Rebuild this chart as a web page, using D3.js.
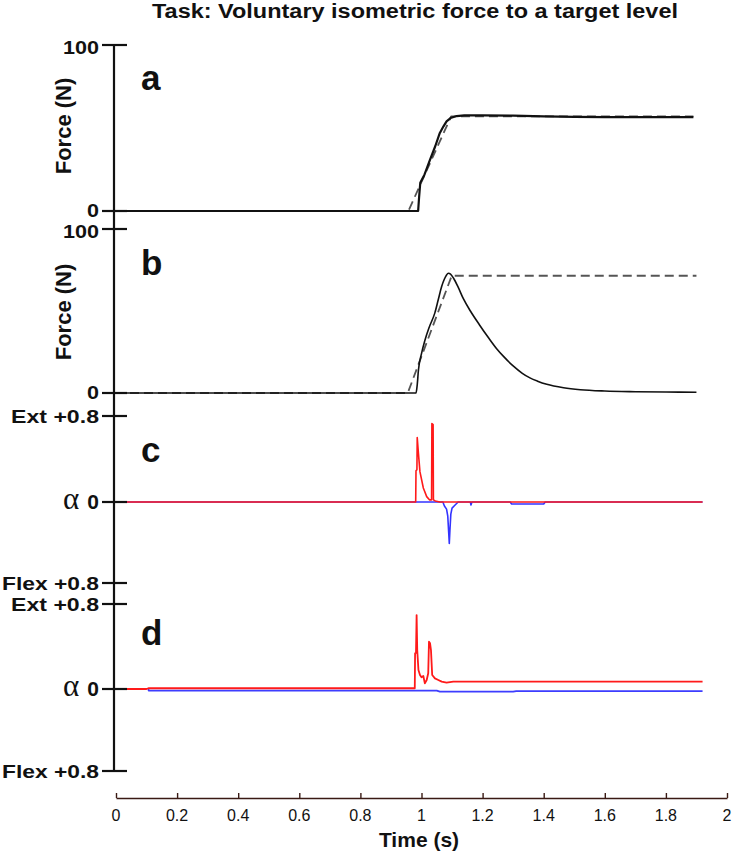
<!DOCTYPE html>
<html>
<head>
<meta charset="utf-8">
<script src="https://cdn.jsdelivr.net/npm/d3@7"></script>
<style>
  html, body { margin: 0; padding: 0; background: #fff; }
  svg { display: block; }
  text { font-family: "Liberation Sans", Arial, sans-serif; fill: #111; }
</style>
</head>
<body>
<svg id="chart" width="746" height="853"></svg>
<script>
// ---------- data ----------
const titleText = "Task: Voluntary isometric force to a target level";
const xTicks = [0, 0.2, 0.4, 0.6, 0.8, 1, 1.2, 1.4, 1.6, 1.8, 2];
const xTickLabels = ["0", "0.2", "0.4", "0.6", "0.8", "1", "1.2", "1.4", "1.6", "1.8", "2"];
const xLabel = "Time (s)";
const forceTicks = [0, 100];
const forceTickLabels = ["0", "100"];
const forceLabel = "Force (N)";
const alphaTicks = [-0.8, 0, 0.8];
const alphaTickLabels = ["Flex +0.8", "0", "Ext +0.8"];
const panelLetters = ["a", "b", "c", "d"];

// panel a: measured force (solid) and target (dashed)
const aTime   = [0, 0.989, 0.992, 0.996, 1.01, 1.028, 1.045, 1.06, 1.072, 1.082, 1.095, 1.115, 1.14, 1.2, 1.3, 1.4, 1.5, 1.6, 1.7, 1.8, 1.89];
const aForce  = [0, 0, 8, 17, 22, 31, 39, 47, 51, 54, 56, 57.2, 57.6, 57.6, 57.4, 57.0, 56.7, 56.6, 56.6, 56.5, 56.5];
const aTargetTime = [0, 0.957, 1.097, 1.89];
const aTarget     = [0, 0, 57, 57];

// panel b
const bTime  = [0, 0.982, 0.986, 0.99, 1.0, 1.011, 1.025, 1.044, 1.055, 1.066, 1.075, 1.082, 1.088, 1.095, 1.105, 1.12, 1.137, 1.16, 1.19, 1.22, 1.246, 1.27, 1.30, 1.33, 1.355, 1.38, 1.41, 1.465, 1.52, 1.6, 1.7, 1.8, 1.9];
const bForce = [0, 0, 5, 14, 24, 32, 40, 49, 57, 65, 69.5, 72, 73, 72.5, 70, 64.5, 57.5, 50, 41.5, 33.5, 27, 22, 16.5, 12, 9.2, 7.2, 5.3, 3.2, 2, 1.2, 0.8, 0.6, 0.5];
const bTargetTime = [0, 0.955, 1.099, 1.9];
const bTarget     = [0, 0, 71.5, 71.5];

// panel c: alpha (extensor red, flexor blue)
const cRedTime  = [0, 0.981, 0.982, 0.985, 0.986, 0.99, 0.995, 1.006, 1.017, 1.026, 1.033, 1.034, 1.038, 1.039, 1.045, 1.06, 1.92];
const cRed      = [0, 0, 0.29, 0.30, 0.60, 0.45, 0.28, 0.13, 0.05, 0.02, 0.02, 0.73, 0.72, 0.02, 0.01, 0, 0];
const cBlueTime = [0, 1.07, 1.075, 1.082, 1.086, 1.089, 1.091, 1.093, 1.096, 1.10, 1.11, 1.12, 1.16, 1.162, 1.165, 1.29, 1.295, 1.40, 1.405, 1.92];
const cBlue     = [0, 0, -0.04, -0.07, -0.14, -0.30, -0.41, -0.28, -0.12, -0.06, -0.03, 0, 0, -0.03, 0, 0, -0.02, -0.02, 0, 0];

// panel d
const dRedTime  = [0, 0.10, 0.106, 0.978, 0.979, 0.982, 0.984, 0.986, 0.990, 0.995, 1.0, 1.006, 1.011, 1.017, 1.022, 1.0245, 1.028, 1.031, 1.035, 1.044, 1.055, 1.066, 1.082, 1.104, 1.92];
const dRed      = [0, 0, 0.007, 0.007, 0.336, 0.34, 0.696, 0.367, 0.179, 0.132, 0.11, 0.122, 0.053, 0.085, 0.148, 0.445, 0.43, 0.367, 0.132, 0.10, 0.085, 0.069, 0.06, 0.069, 0.069];
const dBlueTime = [0.106, 0.107, 1.05, 1.06, 1.3, 1.31, 1.92];
const dBlue     = [0, -0.015, -0.015, -0.025, -0.025, -0.02, -0.02];

// ---------- drawing ----------
const svg = d3.select("#chart");
const x = d3.scaleLinear().domain([0, 2]).range([116, 727]);

const panels = [
  { letter: panelLetters[0], y: d3.scaleLinear().domain([0, 100]).range([211, 45]), type: "force", labelY: 126, letterY: 90 },
  { letter: panelLetters[1], y: d3.scaleLinear().domain([0, 100]).range([393, 229]), type: "force", labelY: 312, letterY: 275 },
  { letter: panelLetters[2], y: d3.scaleLinear().domain([-0.8, 0, 0.8]).range([583, 502, 416]), type: "alpha", letterY: 462 },
  { letter: panelLetters[3], y: d3.scaleLinear().domain([-0.8, 0, 0.8]).range([771, 689, 604]), type: "alpha", letterY: 645 }
];

function zip(ts, vs) { return ts.map((t, i) => [t, vs[i]]); }
function drawLine(panel, ts, vs, color, width, dash, curve) {
  const line = d3.line().x(d => x(d[0])).y(d => panel.y(d[1])).curve(curve || d3.curveLinear);
  const p = svg.append("path")
    .datum(zip(ts, vs))
    .attr("d", line)
    .attr("fill", "none")
    .attr("stroke", color)
    .attr("stroke-width", width)
    .attr("stroke-linejoin", "round");
  if (dash) p.attr("stroke-dasharray", dash);
}

// series
drawLine(panels[0], aTargetTime, aTarget, "#555", 1.8, "9,5");
drawLine(panels[0], aTime, aForce, "#111", 2.2);
drawLine(panels[1], bTargetTime, bTarget, "#555", 1.8, "9,5");
drawLine(panels[1], bTime, bForce, "#111", 1.6, null, d3.curveMonotoneX);
drawLine(panels[2], cBlueTime, cBlue, "#3333ff", 1.6);
drawLine(panels[2], cRedTime, cRed, "#ff1a1a", 1.6);
drawLine(panels[3], dBlueTime, dBlue, "#3d3dff", 1.8);
drawLine(panels[3], dRedTime, dRed, "#ff1a1a", 1.8);

// vertical axis line spanning all panels
svg.append("line")
  .attr("x1", 114).attr("x2", 114)
  .attr("y1", panels[0].y(100)).attr("y2", panels[3].y(-0.8))
  .attr("stroke", "#111").attr("stroke-width", 2.2);

panels.forEach(p => {
  const ticks = p.type === "force" ? forceTicks : alphaTicks;
  const labels = p.type === "force" ? forceTickLabels : alphaTickLabels;
  ticks.forEach((t, i) => {
    svg.append("line")
      .attr("x1", 102).attr("x2", 127)
      .attr("y1", p.y(t)).attr("y2", p.y(t))
      .attr("stroke", "#111").attr("stroke-width", 2.2);
    const lab = labels[i];
    const tx = svg.append("text")
      .attr("x", 99)
      .attr("text-anchor", "end")
      .attr("font-weight", "bold")
      .text(lab);
    if (p.type === "force") {
      tx.attr("font-size", 19).attr("y", p.y(t) + (t === 0 ? 5.5 : 8.5))
        .attr("textLength", t === 0 ? 12 : 36)
        .attr("lengthAdjust", "spacingAndGlyphs");
    } else if (t !== 0) {
      tx.attr("font-size", 19).attr("y", p.y(t) + 7)
        .attr("textLength", lab.startsWith("Flex") ? 97 : 88)
        .attr("lengthAdjust", "spacingAndGlyphs");
    } else {
      tx.attr("font-size", 21).attr("y", p.y(t) + 7);
    }
  });
  if (p.type === "alpha") {
    svg.append("text")
      .attr("x", 71).attr("y", p.y(0) + 7)
      .attr("text-anchor", "middle")
      .style("font-family", "'Liberation Serif', 'DejaVu Serif', serif")
      .attr("font-size", 31)
      .text("α");
  } else {
    svg.append("text")
      .attr("transform", `translate(71,${p.labelY}) rotate(-90)`)
      .attr("text-anchor", "middle")
      .attr("font-weight", "bold")
      .attr("font-size", 22)
      .text(forceLabel);
  }
  svg.append("text")
    .attr("x", 141).attr("y", p.letterY)
    .attr("font-weight", "bold")
    .attr("font-size", 35)
    .text(p.letter);
});

// x axis
const xg = svg.append("g").attr("transform", "translate(0,798)");
xg.call(d3.axisTop(x).tickValues(xTicks).tickSize(5).tickSizeOuter(0).tickFormat(() => ""));
xg.select(".domain").attr("stroke", "#3a1a14").attr("stroke-width", 1.6);
xg.selectAll(".tick line").attr("stroke", "#3a1a14").attr("stroke-width", 1.4);
xTicks.forEach((t, i) => {
  svg.append("text")
    .attr("x", x(t)).attr("y", 821)
    .attr("text-anchor", "middle")
    .attr("font-size", 16)
    .attr("fill", "#222")
    .text(xTickLabels[i]);
});
svg.append("text")
  .attr("x", 419).attr("y", 847)
  .attr("text-anchor", "middle")
  .attr("font-weight", "bold")
  .attr("font-size", 21)
  .text(xLabel);

// title
svg.append("text")
  .attr("x", 415).attr("y", 18)
  .attr("text-anchor", "middle")
  .attr("font-weight", "bold")
  .attr("font-size", 20)
  .attr("textLength", 526)
  .attr("lengthAdjust", "spacingAndGlyphs")
  .text(titleText);
</script>
</body>
</html>
